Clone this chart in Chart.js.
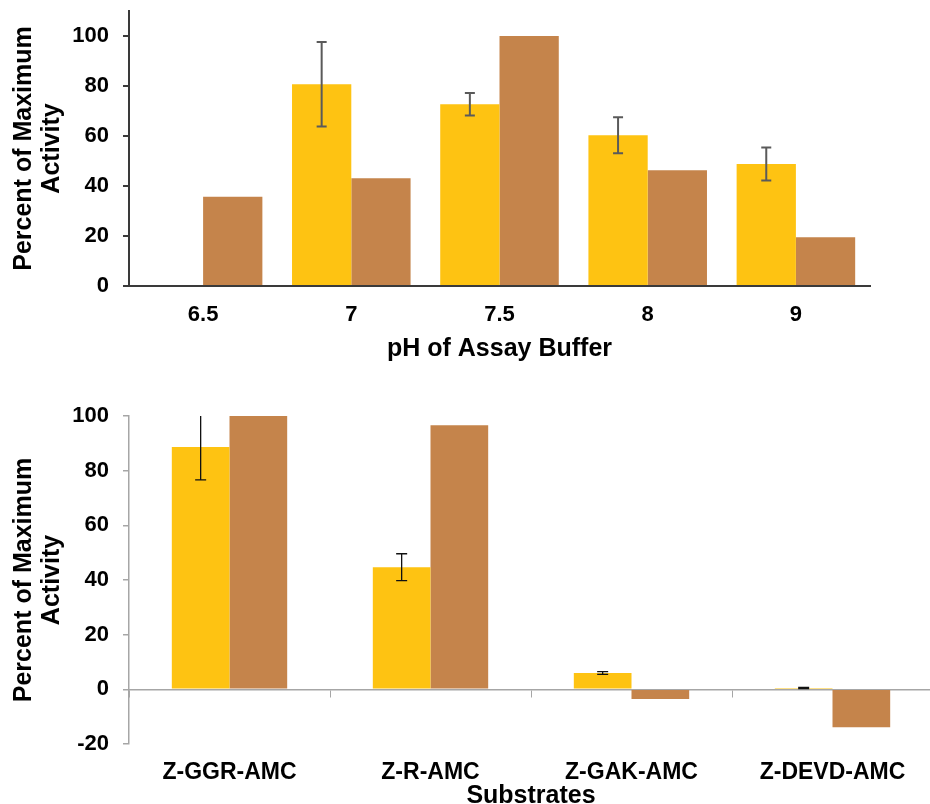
<!DOCTYPE html>
<html>
<head>
<meta charset="utf-8">
<script src="https://cdn.jsdelivr.net/npm/chart.js@4.4.0/dist/chart.umd.min.js"></script>
<style>
  html, body { margin: 0; padding: 0; background: #fff; overflow: hidden; width: 930px; height: 804px; }
  #phBox { position: absolute; left: 0; top: -20px; width: 930px; height: 390px; }
  #subBox { position: absolute; left: 0; top: 374px; width: 933px; height: 445px; }
</style>
</head>
<body>
<div id="phBox"><canvas id="phChart"></canvas></div>
<div id="subBox"><canvas id="subChart"></canvas></div>
<script>
// pH panel
var phLabels = ['6.5', '7', '7.5', '8', '9'];
var phYellow = [null, 80.7, 72.7, 60.3, 48.8];
var phYellowErr = [null, 16.9, 4.5, 7.2, 6.6];
var phBrown = [35.7, 43.1, 100, 46.3, 19.5];

// substrate panel
var subLabels = ['Z-GGR-AMC', 'Z-R-AMC', 'Z-GAK-AMC', 'Z-DEVD-AMC'];
var subYellow = [88.7, 44.7, 6.0, 0.5];
var subYellowErr = [12.1, 4.9, 0.5, 0.2];
var subBrown = [100, 96.6, -3.5, -13.9];

var yTitle = ['Percent of Maximum', 'Activity'];
var YELLOW = '#FEC312';
var BROWN = '#C5844B';
var FONT = "'Liberation Sans', Arial, sans-serif";

// draws error bars on dataset 0 using the y scale
const errorBars = {
    id: 'errorBars',
    afterDatasetsDraw(chart, args, opts) {
        const meta = chart.getDatasetMeta(0);
        const yScale = chart.scales.y;
        const area = chart.chartArea;
        const vals = chart.data.datasets[0].data;
        const ctx = chart.ctx;
        ctx.save();
        ctx.strokeStyle = opts.color;
        ctx.lineWidth = opts.width;
        meta.data.forEach((bar, i) => {
            const v = vals[i], e = opts.errors[i];
            if (v == null || e == null) return;
            const top = yScale.getPixelForValue(v + e);
            const bot = yScale.getPixelForValue(v - e);
            const half = opts.cap / 2;
            ctx.beginPath();
            ctx.moveTo(bar.x, Math.max(top, area.top));
            ctx.lineTo(bar.x, bot);
            if (top >= area.top) {
                ctx.moveTo(bar.x - half, top);
                ctx.lineTo(bar.x + half, top);
            }
            ctx.moveTo(bar.x - half, bot);
            ctx.lineTo(bar.x + half, bot);
            ctx.stroke();
        });
        ctx.restore();
    }
};

Chart.defaults.font.family = FONT;
Chart.defaults.color = '#000';

new Chart(document.getElementById('phChart').getContext('2d'), {
    type: 'bar',
    data: {
        labels: phLabels,
        datasets: [
            { data: phYellow, backgroundColor: YELLOW, categoryPercentage: 0.8, barPercentage: 1 },
            { data: phBrown, backgroundColor: BROWN, categoryPercentage: 0.8, barPercentage: 1 }
        ]
    },
    plugins: [errorBars],
    options: {
        responsive: true,
        maintainAspectRatio: false,
        animation: false,
        events: [],
        layout: { padding: { top: 31, right: 60, bottom: 2, left: 6 } },
        plugins: {
            legend: { display: false },
            tooltip: { enabled: false },
            errorBars: { errors: phYellowErr, color: '#5a5a5a', width: 2, cap: 10 }
        },
        scales: {
            x: {
                offset: true,
                grid: { display: false, drawTicks: false },
                border: { display: true, color: '#3a3a3a', width: 2 },
                ticks: { padding: 16, font: { size: 22, weight: 'bold' } },
                title: { display: true, text: 'pH of Assay Buffer', padding: { top: 4, bottom: 4 },
                         font: { size: 25, weight: 'bold' } },
                afterFit: s => { s.height = 82; }
            },
            y: {
                min: 0,
                max: 110,
                grid: { drawOnChartArea: false, drawTicks: true, tickLength: 6, color: '#3a3a3a', lineWidth: 2 },
                border: { display: true, color: '#3a3a3a', width: 2 },
                ticks: { stepSize: 20, padding: 14, font: { size: 22, weight: 'bold' } },
                afterBuildTicks: s => { s.ticks = s.ticks.filter(t => t.value <= 100); },
                title: { display: true, text: yTitle, padding: { top: 4, bottom: 4 },
                         font: { size: 25, weight: 'bold', lineHeight: 1.12 } },
                afterFit: s => { s.width = 123; }
            }
        }
    }
});

new Chart(document.getElementById('subChart').getContext('2d'), {
    type: 'bar',
    data: {
        labels: subLabels,
        datasets: [
            { data: subYellow, backgroundColor: YELLOW, categoryPercentage: 0.574, barPercentage: 1 },
            { data: subBrown, backgroundColor: BROWN, categoryPercentage: 0.574, barPercentage: 1 }
        ]
    },
    plugins: [errorBars],
    options: {
        responsive: true,
        maintainAspectRatio: false,
        animation: false,
        events: [],
        layout: { padding: { top: 42, right: 0, bottom: 4, left: 6 } },
        plugins: {
            legend: { display: false },
            tooltip: { enabled: false },
            errorBars: { errors: subYellowErr, color: '#111', width: 1.3, cap: 11 }
        },
        scales: {
            x: {
                offset: true,
                grid: { display: false, drawTicks: false },
                border: { display: false },
                ticks: { padding: 15, font: { size: 23, weight: 'bold' } },
                title: { display: true, text: 'Substrates', padding: { top: 4, bottom: 4 },
                         font: { size: 25, weight: 'bold' } },
                afterFit: s => { s.height = 71; }
            },
            x0: {
                type: 'category',
                position: { y: 0 },
                offset: true,
                ticks: { display: false },
                grid: { display: true, drawOnChartArea: false, drawTicks: true, tickLength: 7, offset: true, color: '#a6a6a6' },
                border: { display: true, color: '#a6a6a6', width: 1.5 }
            },
            y: {
                min: -20,
                max: 100,
                grid: { drawOnChartArea: false, drawTicks: true, tickLength: 6, color: '#a6a6a6', lineWidth: 1.5 },
                border: { display: true, color: '#a6a6a6', width: 1.5 },
                ticks: { stepSize: 20, padding: 14, font: { size: 22, weight: 'bold' } },
                title: { display: true, text: yTitle, padding: { top: 4, bottom: 4 },
                         font: { size: 25, weight: 'bold', lineHeight: 1.12 } },
                afterFit: s => { s.width = 123; }
            }
        }
    }
});
</script>
</body>
</html>
